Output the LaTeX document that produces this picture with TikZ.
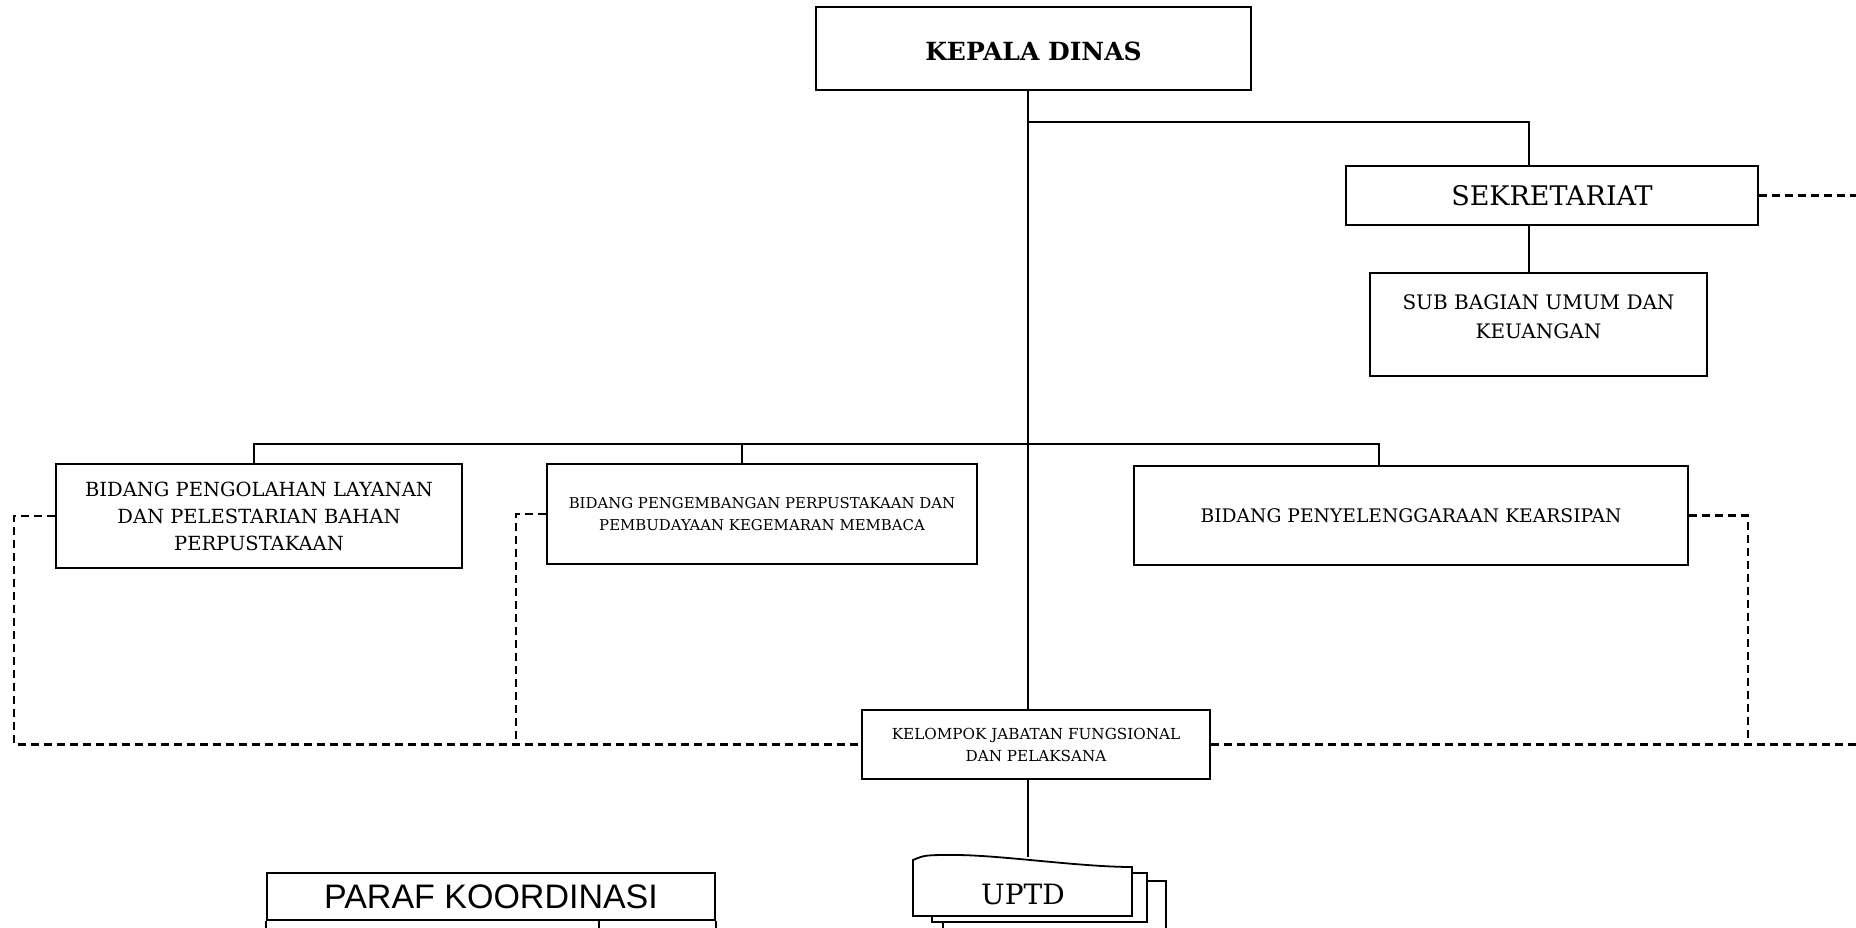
\documentclass[tikz,border=0pt]{standalone}
\usepackage{fontspec}
\setmainfont{DejaVu Serif}
\newfontfamily\parafsans{Liberation Sans}
\usetikzlibrary{positioning,calc}
\tikzstyle{unit}=[rectangle,draw=black,line width=2.4pt,fill=white,
  inner sep=0pt,align=center]
\begin{document}
\begin{tikzpicture}[x=1pt,y=-1pt]
    \useasboundingbox (0,0) rectangle (1856,928);
    \clip (0,0) rectangle (1856,928);
    \tikzstyle{lnk}=[line width=1.8pt]
    \tikzstyle{koord}=[line width=2.2pt,dash pattern=on 8pt off 5pt]
    % pimpinan dan sekretariat
    \node[unit,minimum width=435,minimum height=83,text height=25pt,
      font=\bfseries\fontsize{25}{30}\selectfont](kepala)at(1033.5,48.5){KEPALA DINAS};
    \node[unit,minimum width=412,minimum height=59,
      font=\fontsize{27}{32}\selectfont](sekre)at(1552,195.5){SEKRETARIAT};
    \node[unit,minimum width=337,minimum height=103,text depth=16pt,
      font=\fontsize{20}{29}\selectfont](subbag)at(1538.5,324.5){SUB BAGIAN UMUM DAN\\KEUANGAN};
    % bidang
    \node[unit,minimum width=406,minimum height=104,
      font=\fontsize{19.5}{27}\selectfont](bid1)at(259,516)
      {BIDANG PENGOLAHAN LAYANAN\\DAN PELESTARIAN BAHAN\\PERPUSTAKAAN};
    \node[unit,minimum width=430,minimum height=100,
      font=\fontsize{14.9}{22}\selectfont](bid2)at(762,514)
      {BIDANG PENGEMBANGAN PERPUSTAKAAN DAN\\PEMBUDAYAAN KEGEMARAN MEMBACA};
    \node[unit,minimum width=554,minimum height=99,
      font=\fontsize{18.7}{24}\selectfont](bid3)at(1411,515.5)
      {BIDANG PENYELENGGARAAN KEARSIPAN};
    \node[unit,minimum width=348,minimum height=69,
      font=\fontsize{15.2}{22}\selectfont](jafung)at(1036,744.5)
      {KELOMPOK JABATAN FUNGSIONAL\\DAN PELAKSANA};
    \node[unit,minimum width=448,minimum height=47,
      font=\parafsans\fontsize{34}{38}\selectfont](paraf)at(491,896.5){PARAF KOORDINASI};
    %
    \coordinate(trunk)at(1028,0);
    \coordinate(sekx)at(1529,122);
    \coordinate(barL)at(254,444);
    \coordinate(barM)at(742,444);
    \coordinate(barR)at(1379,444);
    \coordinate(lx)at(14,0);
    \coordinate(mx)at(516,0);
    \coordinate(rx)at(1748,0);
    \coordinate(redge)at(1856,0);
    \coordinate(bot)at(0,940);
    \coordinate(uptdtop)at(1028,857);

    \draw[lnk] (kepala.south-|trunk) -- (jafung.north-|trunk);
    \draw[lnk] (trunk|-sekx) -- (sekx) -- (sekx|-sekre.north);
    \draw[lnk] (sekre.south-|sekx) -- (subbag.north-|sekx);
    \draw[lnk] (barL|-bid1.north) -- (barL) -- (barR) -- (barR|-bid3.north);
    \draw[lnk] (barM) -- (barM|-bid2.north);
    \draw[lnk] (jafung.south-|trunk) -- (uptdtop);
    % garis koordinasi
    \draw[koord] (sekre.east) -- (sekre.east-|redge);
    \draw[koord] (bid1.west) -| (jafung.west-|lx) -- (jafung.west);
    \draw[koord] (bid2.west) -| (jafung.west-|mx);
    \draw[koord] (bid3.east) -| (jafung.east-|rx);
    \draw[koord] (jafung.east) -- (jafung.east-|redge);
    % tabel paraf
    \draw[lnk] (paraf.south west) -- (paraf.south west|-bot);
    \draw[lnk] (paraf.south east) -- (paraf.south east|-bot);
    \draw[lnk] ($(paraf.south west)!0.74!(paraf.south east)$) -- ++(0,30);
    % tumpukan UPTD
    \draw[lnk,fill=white] (943,881) rectangle (1166,945);
    \draw[lnk,fill=white] (932,873) rectangle (1147,922);
    \draw[lnk,fill=white] (913,916) -- (913,860) .. controls (925,855) .. (955,855)
      .. controls (1000,855) and (1080,867) .. (1132,867) -- (1132,916) -- cycle;
    \node[font=\fontsize{28}{32}\selectfont](uptd)at(1023,894){UPTD};
\end{tikzpicture}
\end{document}
